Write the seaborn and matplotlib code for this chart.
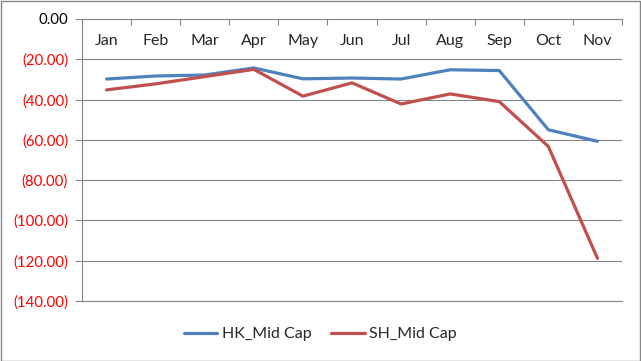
import pandas as pd
import matplotlib.pyplot as plt
import seaborn as sns
from matplotlib.patches import Rectangle
from matplotlib.ticker import FixedLocator, FuncFormatter

# data
months = ["Jan", "Feb", "Mar", "Apr", "May", "Jun", "Jul", "Aug", "Sep", "Oct", "Nov"]
hk_mid_cap = [-29.8, -28.3, -27.8, -24.3, -29.7, -29.3, -29.8, -25.2, -25.6, -55.0, -60.7]
sh_mid_cap = [-35.2, -32.2, -28.6, -25.0, -38.3, -31.7, -42.2, -37.2, -41.0, -63.3, -118.8]
y_ticks = [0, -20, -40, -60, -80, -100, -120, -140]

df = pd.DataFrame({
    "Month": months * 2,
    "Value": hk_mid_cap + sh_mid_cap,
    "Series": ["HK_Mid Cap"] * len(months) + ["SH_Mid Cap"] * len(months),
})
df["pos"] = df["Month"].map({m: i for i, m in enumerate(months)})

sns.set_style("white")
plt.rcParams["font.family"] = ["Lato", "DejaVu Sans"]

W, H = 641, 361
fig = plt.figure(figsize=(W / 100, H / 100), dpi=100)
ax = fig.add_axes([82 / W, 1 - 301 / H, (622 - 82) / W, (301 - 19) / H])

grid_col = "#868686"
sns.lineplot(data=df, x="pos", y="Value", hue="Series", ax=ax, sort=False,
             palette={"HK_Mid Cap": "#4F81BD", "SH_Mid Cap": "#C0504D"},
             linewidth=2.3)

ax.set_xlim(-0.5, len(months) - 0.5)
ax.set_ylim(-140, 0)
ax.set_xlabel("")
ax.set_ylabel("")

# y axis: Excel accounting style, negatives in red brackets
ax.set_yticks(y_ticks)
ax.yaxis.set_major_formatter(FuncFormatter(
    lambda v, p: "0.00" if v == 0 else f"({abs(v):.2f})"))
ax.tick_params(axis="y", length=5, width=0.8, color=grid_col, pad=5,
               labelsize=10.8, left=True)
for lab, v in zip(ax.get_yticklabels(), y_ticks):
    lab.set_color("black" if v == 0 else "#FF0000")
ax.yaxis.grid(True, color=grid_col, linewidth=0.8)

# x axis on top: ticks between categories, labels centered below the line
ax.xaxis.set_major_locator(FixedLocator([i - 0.5 for i in range(len(months) + 1)]))
ax.xaxis.set_major_formatter(FuncFormatter(lambda v, p: ""))
ax.set_xticks(range(len(months)), months, minor=True)
ax.tick_params(axis="x", which="major", top=True, bottom=False, labeltop=False,
               labelbottom=False, direction="in", length=4, width=0.8, color=grid_col)
ax.tick_params(axis="x", which="minor", top=True, bottom=False, labeltop=True,
               labelbottom=False, length=0, pad=-21, labelsize=11.5)

ax.spines["right"].set_visible(False)
for s in ["left", "top", "bottom"]:
    ax.spines[s].set_color(grid_col)
    ax.spines[s].set_linewidth(0.8)

ax.legend(loc="center", bbox_to_anchor=(0.5, 1 - 334 / H), bbox_transform=fig.transFigure,
          ncol=2, frameon=False, fontsize=11.5, handlelength=2.1, columnspacing=1.2,
          handletextpad=0.3)

fig.patches.append(Rectangle((0.5 / W, 0.5 / H), 1 - 1.5 / W, 1 - 1.5 / H,
                             transform=fig.transFigure, fill=False,
                             edgecolor=grid_col, linewidth=1))

plt.savefig("out.png", dpi=100)
